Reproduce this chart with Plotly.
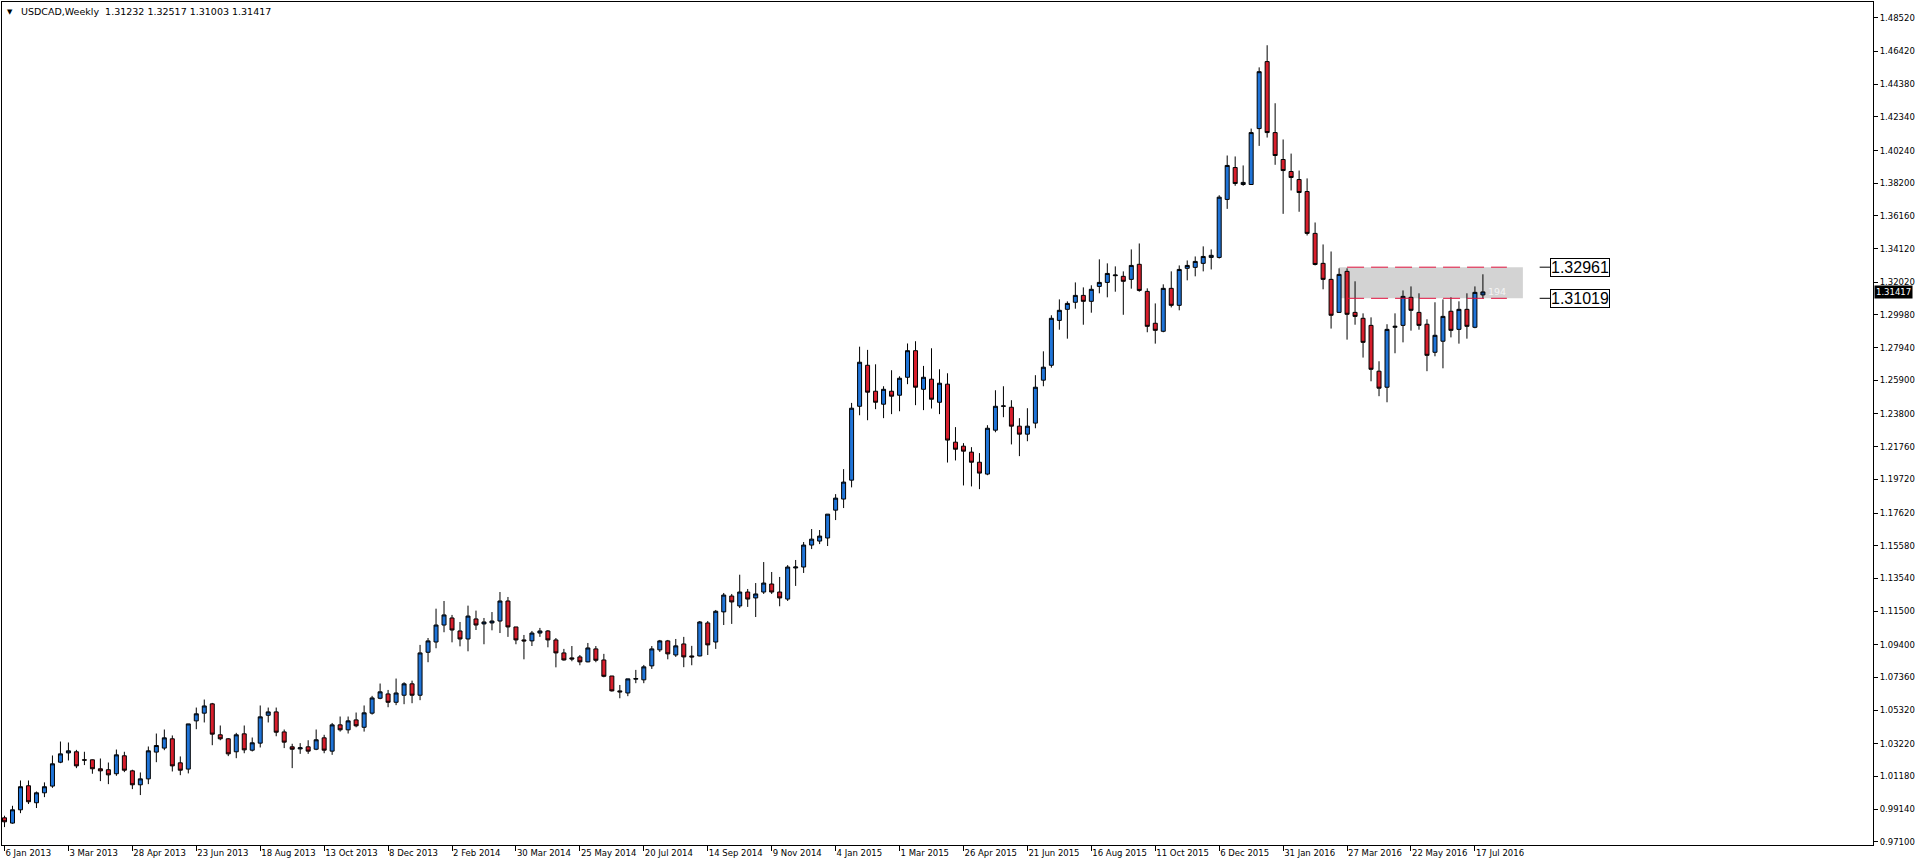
import plotly.graph_objects as go

# ---------------- data ----------------
symbol_title = "USDCAD,Weekly"

opens = [
    0.9860, 0.9827, 0.9910, 1.0060, 0.9954, 1.0016, 1.0058, 1.0207, 1.0265, 1.0272,
    1.0222, 1.0222, 1.0166, 1.0160, 1.0135, 1.0247, 1.0153, 1.0066, 1.0103, 1.0270,
    1.0295, 1.0353, 1.0203, 1.0164, 1.0465, 1.0513, 1.0571, 1.0378, 1.0353, 1.0272,
    1.0384, 1.0282, 1.0326, 1.0500, 1.0521, 1.0396, 1.0303, 1.0290, 1.0303, 1.0288,
    1.0359, 1.0276, 1.0440, 1.0409, 1.0471, 1.0425, 1.0513, 1.0606, 1.0633, 1.0581,
    1.0625, 1.0696, 1.0625, 1.0893, 1.0957, 1.1063, 1.1107, 1.1026, 1.0976, 1.1101,
    1.1070, 1.1076, 1.1088, 1.1213, 1.1051, 1.0970, 1.0964, 1.1013, 1.1026, 1.0970,
    1.0889, 1.0858, 1.0864, 1.0833, 1.0914, 1.0845, 1.0745, 1.0652, 1.0639, 1.0725,
    1.0721, 1.0808, 1.0908, 1.0964, 1.0876, 1.0945, 1.0870, 1.0870, 1.1076, 1.0957,
    1.1145, 1.1244, 1.1182, 1.1269, 1.1232, 1.1269, 1.1319, 1.1269, 1.1225, 1.1419,
    1.1425, 1.1562, 1.1587, 1.1606, 1.1780, 1.1849, 1.1967, 1.2428, 1.2684, 1.2522,
    1.2441, 1.2522, 1.2497, 1.2609, 1.2775, 1.2534, 1.2597, 1.2453, 1.2566, 1.2204,
    1.2179, 1.2142, 1.2079, 1.2005, 1.2279, 1.2428, 1.2422, 1.2304, 1.2254, 1.2323,
    1.2591, 1.2684, 1.2964, 1.3033, 1.3077, 1.3120, 1.3083, 1.3176, 1.3201, 1.3243,
    1.3239, 1.3220, 1.3314, 1.3145, 1.2946, 1.2896, 1.3164, 1.3058, 1.3289, 1.3295,
    1.3320, 1.3357, 1.3357, 1.3719, 1.3918, 1.3812, 1.3812, 1.4161, 1.4579, 1.4136,
    1.3968, 1.3893, 1.3843, 1.3768, 1.3507, 1.3320, 1.3220, 1.3014, 1.3270, 1.3014,
    1.2977, 1.2933, 1.2647, 1.2547, 1.2921, 1.2933, 1.3108, 1.3014, 1.2940, 1.2765,
    1.2834, 1.3021, 1.2908, 1.3033, 1.2921, 1.31232,
]

highs = [
    0.9873, 0.9935, 1.0093, 1.0093, 1.0024, 1.0081, 1.0249, 1.0336, 1.0330, 1.0284,
    1.0272, 1.0224, 1.0230, 1.0205, 1.0286, 1.0272, 1.0160, 1.0143, 1.0305, 1.0386,
    1.0411, 1.0374, 1.0243, 1.0446, 1.0548, 1.0598, 1.0577, 1.0436, 1.0357, 1.0390,
    1.0436, 1.0361, 1.0561, 1.0548, 1.0548, 1.0411, 1.0322, 1.0326, 1.0344, 1.0411,
    1.0378, 1.0452, 1.0492, 1.0492, 1.0517, 1.0561, 1.0621, 1.0698, 1.0658, 1.0729,
    1.0706, 1.0716, 1.0939, 1.0982, 1.1165, 1.1213, 1.1126, 1.1082, 1.1184, 1.1153,
    1.1107, 1.1144, 1.1269, 1.1238, 1.1051, 1.1001, 1.1026, 1.1045, 1.1032, 1.0982,
    1.0914, 1.0932, 1.0876, 1.0951, 1.0932, 1.0883, 1.0745, 1.0689, 1.0727, 1.0783,
    1.0814, 1.0932, 1.0970, 1.0970, 1.0976, 1.0989, 1.0933, 1.1088, 1.1088, 1.1157,
    1.1263, 1.1257, 1.1377, 1.1288, 1.1325, 1.1456, 1.1394, 1.1363, 1.1437, 1.1469,
    1.1581, 1.1662, 1.1656, 1.1755, 1.1880, 1.2036, 1.2449, 1.2800, 1.2780, 1.2690,
    1.2553, 1.2653, 1.2615, 1.2820, 1.2834, 1.2680, 1.2790, 1.2659, 1.2634, 1.2298,
    1.2198, 1.2173, 1.2136, 1.2310, 1.2528, 1.2553, 1.2466, 1.2354, 1.2416, 1.2622,
    1.2771, 1.2996, 1.3095, 1.3083, 1.3201, 1.3170, 1.3183, 1.3345, 1.3320, 1.3301,
    1.3270, 1.3407, 1.3444, 1.3164, 1.3070, 1.3189, 1.3270, 1.3307, 1.3338, 1.3363,
    1.3426, 1.3407, 1.3745, 1.3993, 1.3987, 1.3931, 1.4161, 1.4543, 1.4681, 1.4319,
    1.4093, 1.4005, 1.3899, 1.3850, 1.3575, 1.3438, 1.3394, 1.3289, 1.3289, 1.3208,
    1.3008, 1.2983, 1.2709, 1.2940, 1.3008, 1.3151, 1.3176, 1.3133, 1.2971, 1.3077,
    1.3095, 1.3108, 1.3083, 1.3133, 1.3176, 1.32517,
]

lows = [
    0.9802, 0.9823, 0.9889, 0.9946, 0.9921, 0.9989, 1.0047, 1.0201, 1.0218, 1.0170,
    1.0189, 1.0135, 1.0089, 1.0070, 1.0122, 1.0145, 1.0039, 1.0002, 1.0070, 1.0207,
    1.0282, 1.0149, 1.0126, 1.0137, 1.0413, 1.0455, 1.0313, 1.0344, 1.0245, 1.0232,
    1.0263, 1.0274, 1.0299, 1.0455, 1.0369, 1.0295, 1.0170, 1.0259, 1.0259, 1.0282,
    1.0263, 1.0253, 1.0398, 1.0386, 1.0425, 1.0398, 1.0504, 1.0600, 1.0550, 1.0563,
    1.0569, 1.0575, 1.0594, 1.0831, 1.0918, 1.1018, 1.0955, 1.0930, 1.0899, 1.1032,
    1.0943, 1.1030, 1.1013, 1.0989, 1.0943, 1.0849, 1.0932, 1.0989, 1.0924, 1.0799,
    1.0841, 1.0837, 1.0812, 1.0831, 1.0831, 1.0737, 1.0648, 1.0606, 1.0619, 1.0700,
    1.0700, 1.0789, 1.0895, 1.0849, 1.0864, 1.0800, 1.0812, 1.0868, 1.0876, 1.0914,
    1.1063, 1.1070, 1.1169, 1.1176, 1.1113, 1.1257, 1.1257, 1.1180, 1.1213, 1.1307,
    1.1388, 1.1537, 1.1568, 1.1556, 1.1718, 1.1793, 1.1922, 1.2372, 1.2341, 1.2410,
    1.2354, 1.2379, 1.2397, 1.2566, 1.2435, 1.2404, 1.2414, 1.2379, 1.2077, 1.2090,
    1.1934, 1.1928, 1.1911, 1.1998, 1.2266, 1.2360, 1.2190, 1.2117, 1.2210, 1.2291,
    1.2553, 1.2669, 1.2906, 1.2850, 1.3037, 1.2937, 1.3012, 1.3133, 1.3108, 1.3143,
    1.2999, 1.3162, 1.3143, 1.2890, 1.2819, 1.2890, 1.3045, 1.3027, 1.3214, 1.3239,
    1.3270, 1.3282, 1.3350, 1.3660, 1.3804, 1.3804, 1.3810, 1.4053, 1.4105, 1.3935,
    1.3629, 1.3775, 1.3642, 1.3494, 1.3307, 1.3158, 1.2913, 1.3010, 1.2844, 1.2937,
    1.2732, 1.2584, 1.2491, 1.2453, 1.2759, 1.2827, 1.2900, 1.2906, 1.2647, 1.2740,
    1.2665, 1.2858, 1.2819, 1.2850, 1.2915, 1.31003,
]

closes = [
    0.9835, 0.9910, 1.0054, 0.9960, 1.0016, 1.0054, 1.0197, 1.0259, 1.0278, 1.0184,
    1.0220, 1.0166, 1.0153, 1.0128, 1.0253, 1.0157, 1.0066, 1.0103, 1.0278, 1.0311,
    1.0359, 1.0184, 1.0157, 1.0446, 1.0509, 1.0558, 1.0382, 1.0353, 1.0259, 1.0378,
    1.0284, 1.0328, 1.0490, 1.0521, 1.0394, 1.0332, 1.0288, 1.0297, 1.0276, 1.0347,
    1.0282, 1.0440, 1.0409, 1.0465, 1.0434, 1.0515, 1.0608, 1.0646, 1.0581, 1.0639,
    1.0696, 1.0625, 1.0889, 1.0964, 1.1063, 1.1126, 1.1032, 1.0976, 1.1119, 1.1063,
    1.1082, 1.1088, 1.1213, 1.1051, 1.0970, 1.0964, 1.1013, 1.1026, 1.0970, 1.0889,
    1.0845, 1.0851, 1.0833, 1.0920, 1.0843, 1.0743, 1.0652, 1.0646, 1.0727, 1.0729,
    1.0802, 1.0914, 1.0964, 1.0883, 1.0933, 1.0864, 1.0864, 1.1082, 1.0939, 1.1149,
    1.1250, 1.1207, 1.1269, 1.1225, 1.1257, 1.1325, 1.1269, 1.1232, 1.1425, 1.1425,
    1.1562, 1.1599, 1.1618, 1.1755, 1.1855, 1.1955, 1.2416, 1.2703, 1.2516, 1.2453,
    1.2534, 1.2491, 1.2603, 1.2775, 1.2547, 1.2609, 1.2472, 1.2572, 1.2217, 1.2160,
    1.2148, 1.2079, 1.2011, 1.2291, 1.2428, 1.2430, 1.2304, 1.2254, 1.2304, 1.2547,
    1.2672, 1.2977, 1.3027, 1.3070, 1.3120, 1.3083, 1.3158, 1.3201, 1.3257, 1.3247,
    1.3208, 1.3307, 1.3151, 1.2927, 1.2902, 1.3164, 1.3058, 1.3282, 1.3307, 1.3332,
    1.3363, 1.3370, 1.3733, 1.3931, 1.3818, 1.3825, 1.4136, 1.4516, 1.4136, 1.3993,
    1.3899, 1.3856, 1.3762, 1.3507, 1.3313, 1.3220, 1.2996, 1.3251, 1.3002, 1.2989,
    1.2827, 1.2659, 1.2541, 1.2908, 1.2927, 1.3114, 1.3027, 1.2933, 1.2746, 1.2871,
    1.2989, 1.2902, 1.3033, 1.2927, 1.3139, 1.31417,
]

# date labels shown under the chart, one every 8 weekly bars
date_labels = [
    "6 Jan 2013", "3 Mar 2013", "28 Apr 2013", "23 Jun 2013", "18 Aug 2013",
    "13 Oct 2013", "8 Dec 2013", "2 Feb 2014", "30 Mar 2014", "25 May 2014",
    "20 Jul 2014", "14 Sep 2014", "9 Nov 2014", "4 Jan 2015", "1 Mar 2015",
    "26 Apr 2015", "21 Jun 2015", "16 Aug 2015", "11 Oct 2015", "6 Dec 2015",
    "31 Jan 2016", "27 Mar 2016", "22 May 2016", "17 Jul 2016",
]
label_step = 8

price_ticks = [
    1.48520, 1.46420, 1.44380, 1.42340, 1.40240, 1.38200, 1.36160, 1.34120,
    1.32020, 1.29980, 1.27940, 1.25900, 1.23800, 1.21760, 1.19720, 1.17620,
    1.15580, 1.13540, 1.11500, 1.09400, 1.07360, 1.05320, 1.03220, 1.01180,
    0.99140, 0.97100,
]

zone_top = 1.32961
zone_bottom = 1.31019
zone_note = "194"

# ---------------- figure ----------------
n = len(opens)
bars = list(range(n))
tick_pos = bars[::label_step]

BLUE = "#1F74D8"
RED = "#D81E2C"
AXFONT = dict(family="DejaVu Sans", size=8.5, color="black")

fig = go.Figure()
fig.add_trace(go.Candlestick(
    x=bars, open=opens, high=highs, low=lows, close=closes,
    increasing=dict(fillcolor=BLUE, line=dict(color="black", width=1)),
    decreasing=dict(fillcolor=RED, line=dict(color="black", width=1)),
    whiskerwidth=0, showlegend=False, hoverinfo="skip",
))

# plot-area geometry: 8 px per weekly bar
px_per_bar = 8.0
plot_w = 1873
x_lo = -2.5 / px_per_bar
x_hi = x_lo + plot_w / px_per_bar

fig.update_layout(
    width=1916, height=866,
    margin=dict(l=1, r=42, t=1, b=21, pad=0),
    paper_bgcolor="white", plot_bgcolor="white",
    boxgap=0.5, boxgroupgap=0,
    showlegend=False,
    xaxis=dict(
        range=[x_lo, x_hi], rangeslider=dict(visible=False),
        tickvals=tick_pos, ticktext=date_labels,
        ticks="outside", ticklen=5, tickwidth=1, tickcolor="black",
        ticklabelposition="outside right", tickfont=AXFONT,
        showline=True, linecolor="black", linewidth=1, mirror=True,
        showgrid=False, zeroline=False, fixedrange=True,
    ),
    yaxis=dict(
        range=[0.96903, 1.49509], side="right",
        tickvals=price_ticks, ticktext=[f"{v:.5f}" for v in price_ticks],
        ticks="outside", ticklen=4, tickwidth=1, tickcolor="black",
        tickfont=AXFONT,
        showline=True, linecolor="black", linewidth=1, mirror=True,
        showgrid=False, zeroline=False, fixedrange=True,
    ),
)

# grey zone rectangle and its dashed red bounds
fig.add_shape(type="rect", xref="x", yref="y", x0=167, x1=190,
              y0=zone_bottom, y1=zone_top, fillcolor="#D3D3D3",
              line=dict(width=0), layer="below")
for lvl in (zone_top, zone_bottom):
    fig.add_shape(type="line", xref="x", yref="y", x0=168, x1=188,
                  y0=lvl, y1=lvl, line=dict(color="#E0103C", width=1, dash="17px,7px"))
    fig.add_shape(type="line", xref="x", yref="y", x0=192.1, x1=193.4,
                  y0=lvl, y1=lvl, line=dict(color="black", width=1))
    fig.add_annotation(x=193.4, y=lvl, xref="x", yref="y", xanchor="left",
                       yanchor="middle", text=f"{lvl:.5f}", showarrow=False,
                       font=dict(family="Liberation Sans", size=16, color="black"),
                       bgcolor="white", bordercolor="black", borderwidth=1, borderpad=0)

fig.add_annotation(x=188.2, y=1.3147, xref="x", yref="y", xanchor="right",
                   yanchor="middle", text=zone_note, showarrow=False,
                   font=dict(family="DejaVu Sans", size=9.5, color="#F4F4F4"))

# current price marker on the price scale
fig.add_annotation(x=1, y=closes[-1], xref="paper", yref="y", xanchor="left",
                   yanchor="middle", xshift=1, text=f"{closes[-1]:.5f}",
                   showarrow=False, font=dict(family="DejaVu Sans", size=8.5, color="white"),
                   bgcolor="black", borderpad=1)

# header line
fig.add_annotation(x=0.0018, y=0.9882, xref="paper", yref="paper", xanchor="left",
                   yanchor="middle", text="\u25BC", showarrow=False,
                   font=dict(family="DejaVu Sans", size=7, color="black"))
header = f"{symbol_title}  {opens[-1]:.5f} {highs[-1]:.5f} {lows[-1]:.5f} {closes[-1]:.5f}"
fig.add_annotation(x=0.0091, y=0.9882, xref="paper", yref="paper", xanchor="left",
                   yanchor="middle", text=header.replace("  ", "&nbsp; "), showarrow=False,
                   font=dict(family="DejaVu Sans", size=9.5, color="black"))

fig.write_html("out.html", config={"displayModeBar": False},
               post_script="document.body.style.margin='0';document.body.style.overflow='hidden';")
